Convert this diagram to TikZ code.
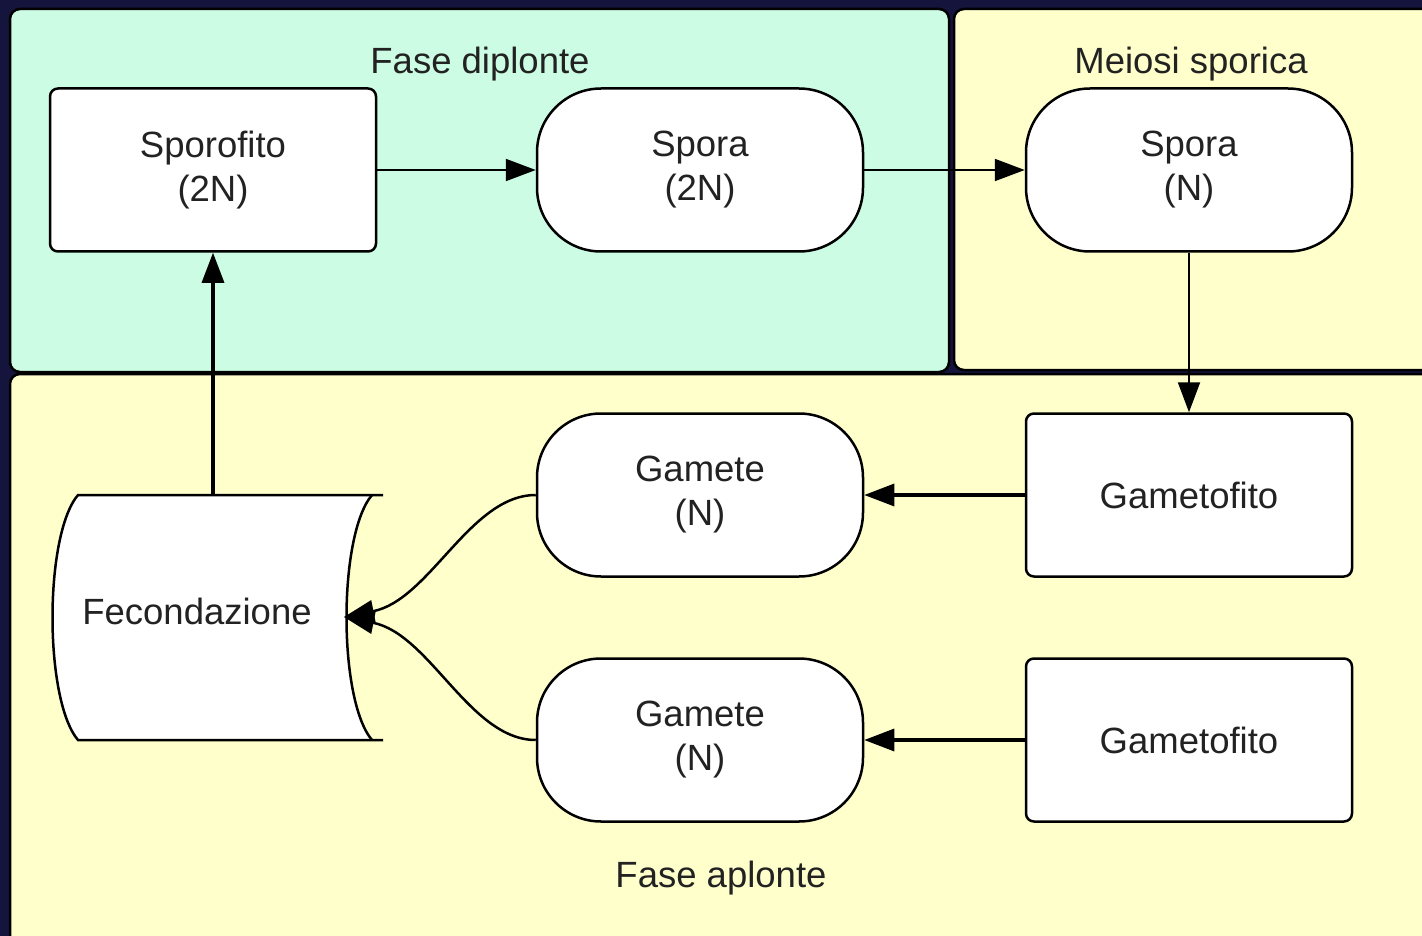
\documentclass[tikz,border=0pt]{standalone}
\usepackage{fontspec}
\setmainfont{Liberation Sans}
\usetikzlibrary{arrows.meta}
\definecolor{navy}{HTML}{15143D}
\definecolor{mint}{HTML}{CCFCE4}
\definecolor{cream}{HTML}{FFFFCC}
\definecolor{txt}{HTML}{222222}
\begin{document}
\begin{tikzpicture}[x=1pt,y=-1pt,
  panel/.style={draw=black, line width=2.5pt, rounded corners=10pt},
  lbl/.style={font=\fontsize{36.5}{44}\selectfont, text=txt, inner sep=0pt},
  box/.style={draw=black, line width=2.5pt, fill=white, minimum width=326pt, minimum height=163pt,
    rounded corners=8pt, align=center, font=\fontsize{36.5}{44}\selectfont, text=txt, inner sep=0pt},
  pill/.style={box, rounded corners=64pt},
  thinarrow/.style={line width=2pt, -{Triangle[length=30pt,width=22pt]}},
  thickarrow/.style={line width=3.2pt, -{Triangle[length=30pt,width=22pt]}}]
\useasboundingbox (0,0) rectangle (1422,936);
\clip (0,0) rectangle (1422,936);
\fill[navy] (0,0) rectangle (1422,936);
% panels
\draw[panel, fill=mint] (10,9) rectangle (949,372);
\draw[panel, fill=cream] (954,9) rectangle (1450,370);
\draw[panel, fill=cream] (10,374) rectangle (1450,960);
% panel labels
\node[lbl] (ldip) at (480,64) {Fase diplonte};
\node[lbl] (lmei) at (1191,64) {Meiosi sporica};
\node[lbl] (lapl) at (721,878) {Fase aplonte};
% nodes
\node[box]  (spo) at (213,170) {Sporofito\\(2N)};
\node[pill] (sp2) at (700,170) {Spora\\(2N)};
\node[pill] (spN) at (1189,170) {Spora\\(N)};
\node[box]  (gf1) at (1189,495) {Gametofito};
\node[box]  (gf2) at (1189,740) {Gametofito};
\node[pill] (g1)  at (700,495) {Gamete\\(N)};
\node[pill] (g2)  at (700,740) {Gamete\\(N)};
% Fecondazione (stored data shape)
\fill[white] (78,495) -- (372,495) .. controls (338,535) and (338,700) .. (372,740)
  -- (78,740) .. controls (44,700) and (44,535) .. (78,495) -- cycle;
\draw[line width=2.5pt] (383,495) -- (78,495) .. controls (44,535) and (44,700) .. (78,740) -- (383,740);
\draw[line width=2.5pt] (372,495) .. controls (338,535) and (338,700) .. (372,740);
\node[lbl] (fec) at (197,611) {Fecondazione};
\coordinate (fecT) at (213,495);
\coordinate (fecR) at (344,617);
% connectors
\draw[thinarrow] (spo.east) -- (sp2.west);
\draw[thinarrow] (sp2.east) -- (spN.west);
\draw[thinarrow] (spN.south) -- (gf1.north);
\draw[thickarrow] (gf1.west) -- (g1.east);
\draw[thickarrow] (gf2.west) -- (g2.east);
\draw[thinarrow, line width=2.5pt] (g1.west) .. controls (470,495) and (430,600) .. (fecR);
\draw[thinarrow, line width=2.5pt] (g2.west) .. controls (470,740) and (430,634) .. (fecR);
\draw[thickarrow] (fecT) -- (spo.south);
\end{tikzpicture}
\end{document}
